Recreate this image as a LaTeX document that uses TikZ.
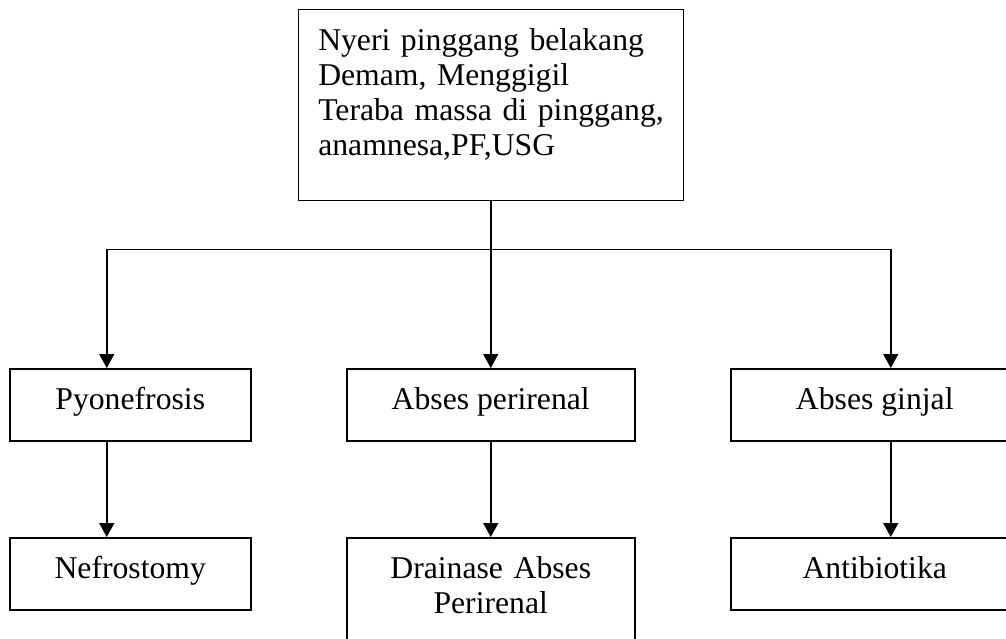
\documentclass[tikz,border=0pt]{standalone}
\usepackage{fontspec}
\setmainfont{Liberation Serif}
\usetikzlibrary{arrows.meta}

\begin{document}
\begin{tikzpicture}[x=1pt,y=-1pt,line width=1.5pt,>={Triangle[length=14pt,width=15pt]},
	box/.style={draw,inner sep=0pt,anchor=north west,text height=41pt,text depth=31pt,font=\fontsize{31.7}{35}\selectfont}]
	\useasboundingbox (0,0) rectangle (1006,639);
	\clip (0,0) rectangle (1006,639);

	\node (gejala) [box,text width=345pt,align=left,inner xsep=20pt,text depth=150pt] at (297.5,9) {Nyeri pinggang belakang\\Demam, Menggigil\\\mbox{Teraba massa di pinggang,}\\anamnesa,PF,USG};

	\node (pyo) [box,minimum width=241pt] at (9,368) {Pyonefrosis};
	\node (perirenal) [box,minimum width=288pt] at (346,368) {Abses perirenal};
	\node (ginjal) [box,minimum width=288pt] at (730,368) {Abses ginjal};

	\node (nefro) [box,minimum width=241pt] at (9,537) {Nefrostomy};
	\node (drainase) [box,text width=288pt,align=center,text depth=70pt] at (346,537) {Drainase Abses\\Perirenal};
	\node (anti) [box,minimum width=288pt] at (730,537) {Antibiotika};

	\draw (gejala.south) -- ++(0,48) coordinate (cabang);
	\draw[->] (cabang) -| ([xshift=-23.5pt]pyo.north);
	\draw[->] (cabang) -- (perirenal.north);
	\draw[->] (cabang) -| ([xshift=16pt]ginjal.north);

	\draw[->] ([xshift=-23.5pt]pyo.south) -- ([xshift=-23.5pt]nefro.north);
	\draw[->] (perirenal) -- (drainase);
	\draw[->] ([xshift=16pt]ginjal.south) -- ([xshift=16pt]anti.north);
\end{tikzpicture}
\end{document}
